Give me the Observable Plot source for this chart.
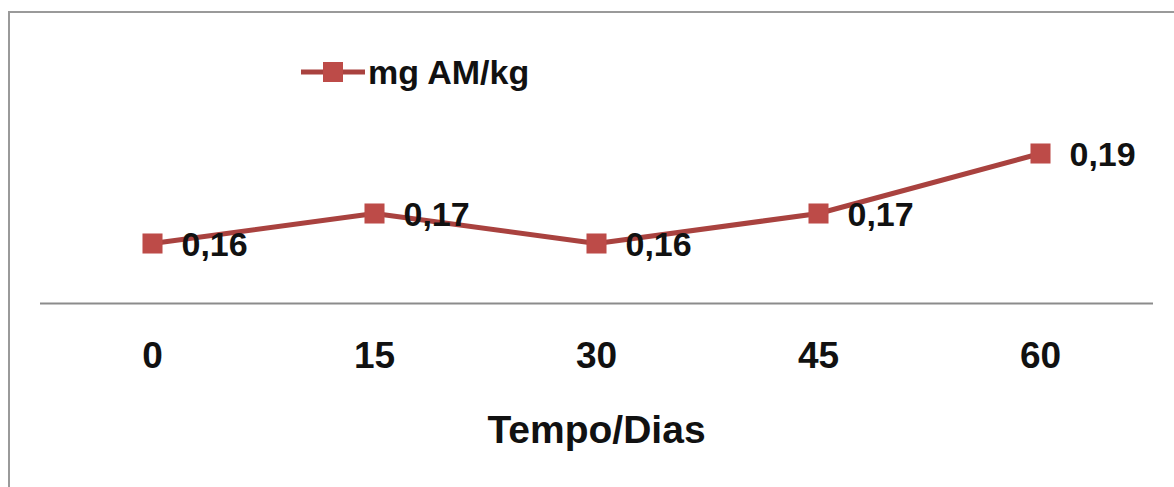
<!DOCTYPE html>
<html>
<head>
<meta charset="utf-8">
<script src="https://cdn.jsdelivr.net/npm/d3@7"></script>
<script src="https://cdn.jsdelivr.net/npm/@observablehq/plot@0.6"></script>
<style>
  html, body { margin: 0; padding: 0; background: #fff; overflow: hidden; }
  #wrap { position: relative; width: 1174px; height: 487px; overflow: hidden; }
  #border { position: absolute; left: 8px; top: 11px; width: 1300px; height: 600px; border: 2px solid #9a9a9a; box-sizing: border-box; }
  #chart { position: absolute; left: 0; top: 0; }
  #legend { position: absolute; left: 300px; top: 50px; height: 44px; display: flex; align-items: center; font-family: "Liberation Sans", Arial, sans-serif; font-weight: bold; font-size: 34px; color: #111; }
  #legend svg { margin-right: 2px; }
</style>
</head>
<body>
<div id="wrap">
  <div id="border"></div>
  <div id="chart"></div>
  <div id="legend"></div>
</div>
<script>
const days = [0, 15, 30, 45, 60];
const values = [0.16, 0.17, 0.16, 0.17, 0.19];
const tickLabels = ["0", "15", "30", "45", "60"];
const seriesName = "mg AM/kg";
const axisTitle = "Tempo/Dias";

const lineColor = "#a9423f";
const markColor = "#bd4b48";

const data = days.map((d, i) => ({day: d, value: values[i], label: values[i].toFixed(2).replace(".", ",")}));

const font = "Liberation Sans, Arial, sans-serif";

const chart = Plot.plot({
  width: 1174,
  height: 487,
  marginLeft: 152,
  marginRight: 134,
  marginTop: 153,
  marginBottom: 184,
  style: {background: "transparent", fontFamily: font, color: "#111"},
  x: {type: "linear", domain: [0, 60]},
  y: {type: "linear", domain: [0.14, 0.19]},
  marks: [
    Plot.ruleY([0.14], {stroke: "#8c8c8c", strokeWidth: 2, insetLeft: -112, insetRight: -113}),
    Plot.axisX(days, {
      tickSize: 0,
      tickPadding: 38,
      tickFormat: (d, i) => tickLabels[i],
      fontSize: 37,
      fontWeight: "bold",
      label: null
    }),
    Plot.axisY({ticks: [], label: null}),
    Plot.text([axisTitle], {frameAnchor: "bottom", dy: 127, lineAnchor: "middle", fontSize: 39, fontWeight: "bold", fill: "#111"}),
    Plot.line(data, {x: "day", y: "value", stroke: lineColor, strokeWidth: 5}),
    Plot.dot(data, {x: "day", y: "value", symbol: "square", r: 11.3, fill: markColor, stroke: "none"}),
    Plot.text(data, {x: "day", y: "value", text: "label", textAnchor: "start", dx: 29, dy: 2, fontSize: 34, fontWeight: "bold", fill: "#111"})
  ]
});
document.getElementById("chart").appendChild(chart);

const legend = document.getElementById("legend");
legend.innerHTML = `<svg width="66" height="24" viewBox="0 0 66 24"><line x1="1" y1="12" x2="65" y2="12" stroke="${lineColor}" stroke-width="5"/><rect x="23" y="2" width="20" height="20" fill="${markColor}"/></svg><span>${seriesName}</span>`;
</script>
</body>
</html>
